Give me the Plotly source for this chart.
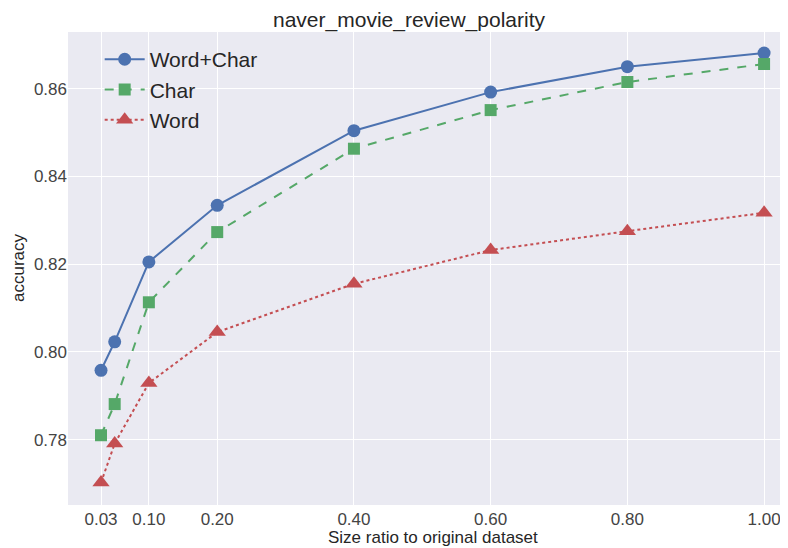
import plotly.graph_objects as go

sizes = [0.03, 0.05, 0.10, 0.20, 0.40, 0.60, 0.80, 1.00]
word_char = [0.7958, 0.8023, 0.8205, 0.8334, 0.8504, 0.8592, 0.8650, 0.8681]
char = [0.7810, 0.7881, 0.8113, 0.8273, 0.8463, 0.8551, 0.8615, 0.8656]
word = [0.7702, 0.7791, 0.7929, 0.8045, 0.8155, 0.8232, 0.8275, 0.8317]
x_ticks = [0.03, 0.10, 0.20, 0.40, 0.60, 0.80, 1.00]
x_tick_labels = ["0.03", "0.10", "0.20", "0.40", "0.60", "0.80", "1.00"]
y_ticks = [0.78, 0.80, 0.82, 0.84, 0.86]

FONT = "Liberation Sans, Arial, sans-serif"
# the page body has an 8px margin, so the figure is sized/offset to fill the window
OFF = 8
W, H = 788 - OFF, 548 - OFF
L, R, T, B = 68 - OFF, 0, 32 - OFF, 43
PW, PH = W - L - R, H - T - B

fig = go.Figure()
fig.add_trace(go.Scatter(
    x=sizes, y=word_char, name="Word+Char", mode="lines+markers",
    line=dict(color="#4C72B0", width=2),
    marker=dict(symbol="circle", size=13, color="#4C72B0"),
))
fig.add_trace(go.Scatter(
    x=sizes, y=char, name="Char", mode="lines+markers",
    line=dict(color="#55A868", width=2, dash="dash"),
    marker=dict(symbol="square", size=12, color="#55A868"),
))
fig.add_trace(go.Scatter(
    x=sizes, y=word, name="Word", mode="lines+markers",
    line=dict(color="#C44E52", width=2, dash="dot"),
    marker=dict(symbol="triangle-up", size=15, color="#C44E52"),
))

fig.update_layout(
    width=W, height=H,
    margin=dict(l=L, r=R, t=T, b=B, autoexpand=False),
    paper_bgcolor="white",
    plot_bgcolor="#EAEAF2",
    font=dict(family=FONT, size=17, color="#262626"),
    title=dict(text="naver_movie_review_polarity", x=(409 - OFF) / W, xanchor="center",
               y=1 - (20 - OFF) / H, yanchor="middle",
               font=dict(family=FONT, size=21, color="#262626")),
    showlegend=True,
    legend=dict(x=0.044, y=0.985, xanchor="left", yanchor="top",
                bgcolor="rgba(0,0,0,0)", font=dict(family=FONT, size=21, color="#262626"),
                itemwidth=40, tracegroupgap=2),
    xaxis=dict(
        range=[-0.0183, 1.035], automargin=False,
        tickmode="array", tickvals=x_ticks, ticktext=x_tick_labels,
        showgrid=True, gridcolor="white", gridwidth=1.2,
        zeroline=False, showline=False, ticks="", ticklabelstandoff=2,
        tickfont=dict(family=FONT, size=17, color="#444444"),
    ),
    yaxis=dict(
        range=[0.7651, 0.8729], automargin=False,
        tickmode="array", tickvals=y_ticks, tickformat=".2f",
        showgrid=True, gridcolor="white", gridwidth=1.2,
        zeroline=False, showline=False, ticks="",
        tickfont=dict(family=FONT, size=17, color="#444444"),
    ),
    annotations=[
        dict(text="Size ratio to original dataset", xref="paper", yref="paper",
             x=(433 - 68) / PW, xanchor="center",
             y=-(537 - 505) / PH, yanchor="middle", showarrow=False,
             font=dict(family=FONT, size=17, color="#262626")),
        dict(text="accuracy", xref="paper", yref="paper", textangle=-90,
             x=-(68 - 18) / PW, xanchor="center",
             y=(505 - 268) / PH, yanchor="middle", showarrow=False,
             font=dict(family=FONT, size=17, color="#262626")),
    ],
)

fig.write_html("out.html")
